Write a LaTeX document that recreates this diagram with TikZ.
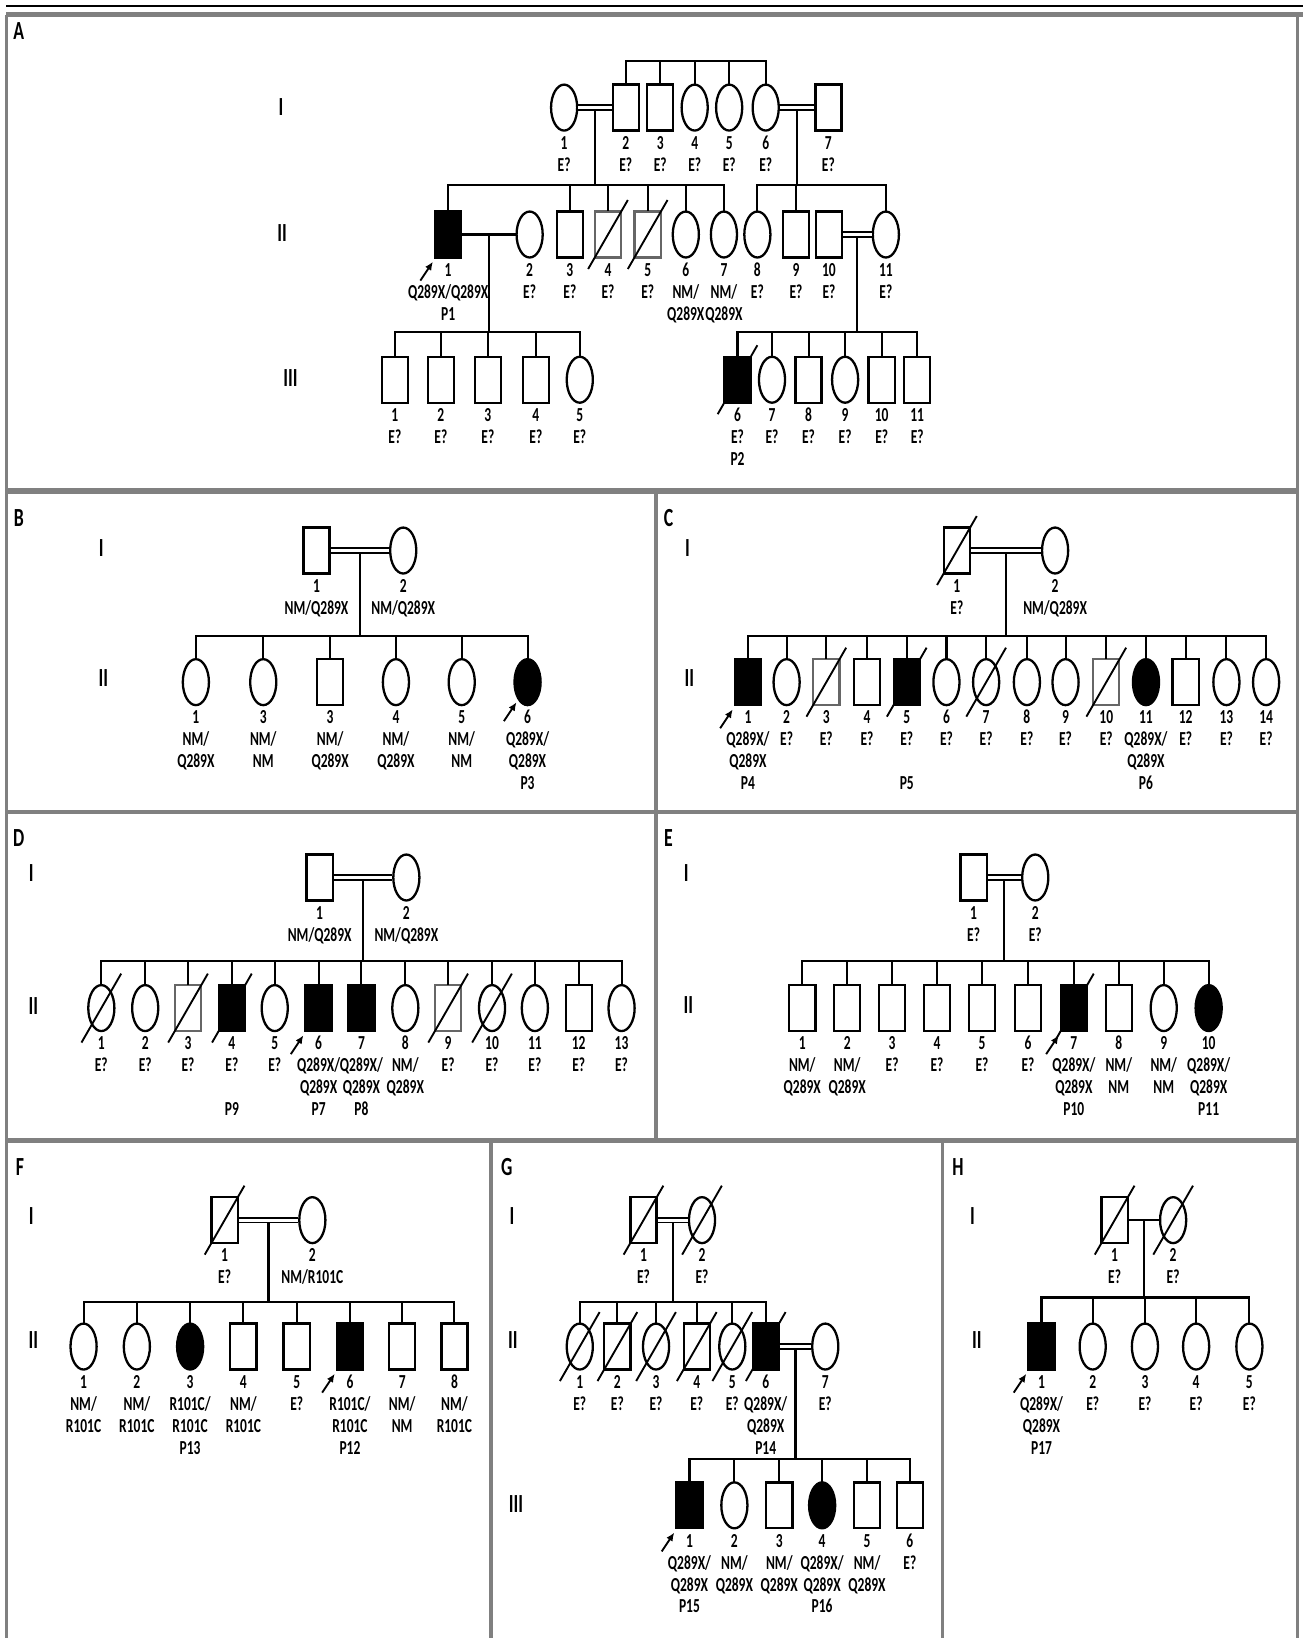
\documentclass[tikz,border=0pt]{standalone}
\usepackage{fontspec}
\setmainfont{Carlito}
\usetikzlibrary{arrows.meta, calc, positioning, shapes.geometric}

\newcommand{\sq}[1]{\scalebox{0.68}[1]{#1}}
\newcommand{\gtext}[1]{\sq{\begin{tabular}{@{}c@{}}#1\end{tabular}}}

\tikzset{
  sym/.style={draw, line width=2.2pt, inner sep=0pt, minimum width=25pt, minimum height=44pt},
  male/.style={sym, rectangle},
  female/.style={sym, ellipse},
  aff/.style={fill=black},
  grayline/.style={draw=black!60},
  kin/.style={line width=2pt, line cap=rect},
  cons/.style={line width=1.7pt, double, double distance=2.6pt},
  slash/.style={line width=1.8pt},
  lbl/.style={inner sep=0pt, font=\bfseries\fontsize{19}{21}\selectfont},
  gen/.style={inner sep=0pt, font=\bfseries\fontsize{25}{25}\selectfont},
  frame/.style={draw=black!50, line width=3pt},
}

\begin{document}
\begin{tikzpicture}[x=1pt, y=-1pt]
    \useasboundingbox (0,0) rectangle (1247,1568);

    % ==========================================
    % MACRO
    % #1 = nome, #2 = x, #3 = y, #4 = stile, #5 = etichetta
    % ==========================================
    \newcommand{\person}[5]{
        \node[#4] (#1) at (#2,#3) {};
        \node[lbl, below=2pt of #1] (#1t) {\gtext{#5}};
    }
    % barra obliqua (deceduto)
    \newcommand{\dead}[1]{
        \draw[slash] ($(#1.center)+(-19,33)$) -- ($(#1.center)+(19,-33)$);
    }
    % freccia del probando
    \newcommand{\proband}[1]{
        \draw[slash, -{Latex[length=8pt, width=7pt]}] ($(#1.south west)+(-13,21)$) -- ($(#1.south west)+(-1,3)$);
    }

    % ==========================================
    % CORNICI DEI PANNELLI
    % ==========================================
    \draw[line width=2pt] (6,6) -- (1247,6);
    \draw[frame, line width=5pt] (6,14) -- (1247,14);
    \draw[frame] (6,14) -- (6,1568);
    \draw[frame] (1242,14) -- (1242,1568);
    \draw[frame, line width=5pt] (6,470) -- (1242,470);
    \draw[frame, line width=4pt] (6,777) -- (1242,777);
    \draw[frame, line width=5pt] (6,1092) -- (1242,1092);
    \draw[frame] (628,470) -- (628,1092);
    \draw[frame] (470,1092) -- (470,1568);
    \draw[frame] (902,1092) -- (902,1568);

    % lettere e generazioni
    \node[gen] (labA) at (18,30) {\sq{A}};
    \node[gen] (labB) at (18,496) {\sq{B}};
    \node[gen] (labC) at (640,496) {\sq{C}};
    \node[gen] (labD) at (18,802) {\sq{D}};
    \node[gen] (labE) at (640,802) {\sq{E}};
    \node[gen] (labF) at (19,1117) {\sq{F}};
    \node[gen] (labG) at (485,1117) {\sq{G}};
    \node[gen] (labH) at (917,1117) {\sq{H}};

    \node[gen] (A-g1) at (269,102) {\sq{I}};
    \node[gen] (A-g2) at (270,223) {\sq{II}};
    \node[gen] (A-g3) at (278,362) {\sq{III}};
    \node[gen] (B-g1) at (97,525) {\sq{I}};
    \node[gen] (B-g2) at (99,649) {\sq{II}};
    \node[gen] (C-g1) at (658,525) {\sq{I}};
    \node[gen] (C-g2) at (660,649) {\sq{II}};
    \node[gen] (D-g1) at (30,836) {\sq{I}};
    \node[gen] (D-g2) at (32,963) {\sq{II}};
    \node[gen] (E-g1) at (657,836) {\sq{I}};
    \node[gen] (E-g2) at (659,962) {\sq{II}};
    \node[gen] (F-g1) at (30,1164) {\sq{I}};
    \node[gen] (F-g2) at (32,1283) {\sq{II}};
    \node[gen] (G-g1) at (490,1164) {\sq{I}};
    \node[gen] (G-g2) at (491,1283) {\sq{II}};
    \node[gen] (G-g3) at (494,1440) {\sq{III}};
    \node[gen] (H-g1) at (931,1164) {\sq{I}};
    \node[gen] (H-g2) at (935,1283) {\sq{II}};

    % ==========================================
    % PANNELLO A
    % ==========================================
    \def\yI{103}
    \def\yII{224.5}
    \def\yIII{363.5}
    \person{A1-1}{540}{\yI}{female}{1\\E?}
    \person{A1-2}{599}{\yI}{male}{2\\E?}
    \person{A1-3}{632}{\yI}{male}{3\\E?}
    \person{A1-4}{665}{\yI}{female}{4\\E?}
    \person{A1-5}{698}{\yI}{female}{5\\E?}
    \person{A1-6}{733}{\yI}{female}{6\\E?}
    \person{A1-7}{793}{\yI}{male}{7\\E?}

    \person{A2-1}{429}{\yII}{male,aff}{1\\Q289X/Q289X\\P1}
    \person{A2-2}{507}{\yII}{female}{2\\E?}
    \person{A2-3}{545.5}{\yII}{male}{3\\E?}
    \person{A2-4}{582}{\yII}{male,grayline}{4\\E?}
    \person{A2-5}{620}{\yII}{male,grayline}{5\\E?}
    \person{A2-6}{656.5}{\yII}{female}{6\\NM/\\Q289X}
    \person{A2-7}{693}{\yII}{female}{7\\NM/\\Q289X}
    \person{A2-8}{725}{\yII}{female}{8\\E?}
    \person{A2-9}{762}{\yII}{male}{9\\E?}
    \person{A2-10}{793.5}{\yII}{male}{10\\E?}
    \person{A2-11}{848}{\yII}{female}{11\\E?}
    \dead{A2-4}
    \dead{A2-5}
    \proband{A2-1}

    \person{A3-1}{378}{\yIII}{male}{1\\E?}
    \person{A3-2}{422}{\yIII}{male}{2\\E?}
    \person{A3-3}{467}{\yIII}{male}{3\\E?}
    \person{A3-4}{513}{\yIII}{male}{4\\E?}
    \person{A3-5}{555}{\yIII}{female}{5\\E?}
    \person{A3-6}{706}{\yIII}{male,aff}{6\\E?\\P2}
    \person{A3-7}{739}{\yIII}{female}{7\\E?}
    \person{A3-8}{774}{\yIII}{male}{8\\E?}
    \person{A3-9}{809}{\yIII}{female}{9\\E?}
    \person{A3-10}{844}{\yIII}{male}{10\\E?}
    \person{A3-11}{878}{\yIII}{male}{11\\E?}
    \dead{A3-6}

    \coordinate (A0bar) at (0,58);
    \coordinate (A2bar) at (0,177);
    \coordinate (A3bar) at (0,317.5);
    \coordinate (Am1) at ($(A1-1.east)!.5!(A1-2.west)$);
    \coordinate (Am2) at ($(A1-6.east)!.5!(A1-7.west)$);
    \coordinate (Am3) at ($(A2-1.east)!.5!(A2-2.west)$);
    \coordinate (Am4) at ($(A2-10.east)!.5!(A2-11.west)$);

    \draw[kin] (A1-2.north |- A0bar) -- (A1-6.north |- A0bar);
    \foreach \i in {2,...,6} {\draw[kin] (A1-\i) -- (A1-\i.north |- A0bar);}
    \draw[kin] (Am1) -- (Am1 |- A2bar);
    \draw[kin] (Am2) -- (Am2 |- A2bar);
    \draw[kin] (A2-1.north |- A2bar) -- (A2-7.north |- A2bar);
    \draw[kin] (A2-8.north |- A2bar) -- (A2-11.north |- A2bar);
    \foreach \i in {1,3,4,5,6,7,8,9,11} {\draw[kin] (A2-\i) -- (A2-\i.north |- A2bar);}
    \draw[kin] (Am3) -- (Am3 |- A3bar);
    \draw[kin] (Am4) -- (Am4 |- A3bar);
    \draw[kin] (A3-1.north |- A3bar) -- (A3-5.north |- A3bar);
    \draw[kin] (A3-6.north |- A3bar) -- (A3-11.north |- A3bar);
    \foreach \i in {1,...,11} {\draw[kin] (A3-\i) -- (A3-\i.north |- A3bar);}
    \draw[cons] (A1-1) -- (A1-2);
    \draw[cons] (A1-6) -- (A1-7);
    \draw[kin] (A2-1) -- (A2-2);
    \draw[cons] (A2-10) -- (A2-11);

    % ==========================================
    % PANNELLO B
    % ==========================================
    \person{B1-1}{303}{527}{male}{1\\NM/Q289X}
    \person{B1-2}{386}{527}{female}{2\\NM/Q289X}
    \person{B2-1}{187.5}{653}{female}{1\\NM/\\Q289X}
    \person{B2-2}{252}{653}{female}{3\\NM/\\NM}
    \person{B2-3}{316}{653}{male}{3\\NM/\\Q289X}
    \person{B2-4}{379}{653}{female}{4\\NM/\\Q289X}
    \person{B2-5}{442}{653}{female}{5\\NM/\\NM}
    \person{B2-6}{505}{653}{female,aff}{6\\Q289X/\\Q289X\\P3}
    \proband{B2-6}

    \coordinate (Bbar) at (0,609);
    \coordinate (Bm) at ($(B1-1.east)!.5!(B1-2.west)$);
    \draw[kin] (Bm) -- (Bm |- Bbar);
    \draw[kin] (B2-1.north |- Bbar) -- (B2-6.north |- Bbar);
    \foreach \i in {1,...,6} {\draw[kin] (B2-\i) -- (B2-\i.north |- Bbar);}
    \draw[cons] (B1-1) -- (B1-2);

    % ==========================================
    % PANNELLO C
    % ==========================================
    \person{C1-1}{916}{527}{male}{1\\E?}
    \person{C1-2}{1010}{527}{female}{2\\NM/Q289X}
    \dead{C1-1}
    \person{C2-1}{716}{653}{male,aff}{1\\Q289X/\\Q289X\\P4}
    \person{C2-2}{753}{653}{female}{2\\E?}
    \person{C2-3}{791}{653}{male,grayline}{3\\E?}
    \person{C2-4}{830}{653}{male}{4\\E?}
    \person{C2-5}{868}{653}{male,aff}{5\\E?\\ \\P5}
    \person{C2-6}{906}{653}{female}{6\\E?}
    \person{C2-7}{944}{653}{female}{7\\E?}
    \person{C2-8}{983}{653}{female}{8\\E?}
    \person{C2-9}{1020}{653}{female}{9\\E?}
    \person{C2-10}{1059}{653}{male,grayline}{10\\E?}
    \person{C2-11}{1097}{653}{female,aff}{11\\Q289X/\\Q289X\\P6}
    \person{C2-12}{1135}{653}{male}{12\\E?}
    \person{C2-13}{1174}{653}{female}{13\\E?}
    \person{C2-14}{1212}{653}{female}{14\\E?}
    \foreach \i in {3,5,7,10} {\dead{C2-\i}}
    \proband{C2-1}

    \coordinate (Cbar) at (0,609);
    \coordinate (Cm) at ($(C1-1.east)!.5!(C1-2.west)$);
    \draw[kin] (Cm) -- (Cm |- Cbar);
    \draw[kin] (C2-1.north |- Cbar) -- (C2-14.north |- Cbar);
    \foreach \i in {1,...,14} {\draw[kin] (C2-\i) -- (C2-\i.north |- Cbar);}
    \draw[cons] (C1-1) -- (C1-2);

    % ==========================================
    % PANNELLO D
    % ==========================================
    \person{D1-1}{306}{840}{male}{1\\NM/Q289X}
    \person{D1-2}{389}{840}{female}{2\\NM/Q289X}
    \person{D2-1}{97}{965}{female}{1\\E?}
    \person{D2-2}{139}{965}{female}{2\\E?}
    \person{D2-3}{180}{965}{male,grayline}{3\\E?}
    \person{D2-4}{222}{965}{male,aff}{4\\E?\\ \\P9}
    \person{D2-5}{263}{965}{female}{5\\E?}
    \person{D2-6}{305}{965}{male,aff}{6\\Q289X/\\Q289X\\P7}
    \person{D2-7}{346}{965}{male,aff}{7\\Q289X/\\Q289X\\P8}
    \person{D2-8}{388}{965}{female}{8\\NM/\\Q289X}
    \person{D2-9}{429}{965}{male,grayline}{9\\E?}
    \person{D2-10}{471}{965}{female}{10\\E?}
    \person{D2-11}{512}{965}{female}{11\\E?}
    \person{D2-12}{554}{965}{male}{12\\E?}
    \person{D2-13}{595}{965}{female}{13\\E?}
    \foreach \i in {1,3,4,9,10} {\dead{D2-\i}}
    \proband{D2-6}

    \coordinate (Dbar) at (0,920);
    \coordinate (Dm) at ($(D1-1.east)!.5!(D1-2.west)$);
    \draw[kin] (Dm) -- (Dm |- Dbar);
    \draw[kin] (D2-1.north |- Dbar) -- (D2-13.north |- Dbar);
    \foreach \i in {1,...,13} {\draw[kin] (D2-\i) -- (D2-\i.north |- Dbar);}
    \draw[cons] (D1-1) -- (D1-2);

    % ==========================================
    % PANNELLO E
    % ==========================================
    \person{E1-1}{932}{840}{male}{1\\E?}
    \person{E1-2}{991}{840}{female}{2\\E?}
    \person{E2-1}{768}{965}{male}{1\\NM/\\Q289X}
    \person{E2-2}{811}{965}{male}{2\\NM/\\Q289X}
    \person{E2-3}{854}{965}{male}{3\\E?}
    \person{E2-4}{897}{965}{male}{4\\E?}
    \person{E2-5}{940}{965}{male}{5\\E?}
    \person{E2-6}{984}{965}{male}{6\\E?}
    \person{E2-7}{1028}{965}{male,aff}{7\\Q289X/\\Q289X\\P10}
    \person{E2-8}{1071}{965}{male}{8\\NM/\\NM}
    \person{E2-9}{1114}{965}{female}{9\\NM/\\NM}
    \person{E2-10}{1157}{965}{female,aff}{10\\Q289X/\\Q289X\\P11}
    \dead{E2-7}
    \proband{E2-7}

    \coordinate (Ebar) at (0,920);
    \coordinate (Em) at ($(E1-1.east)!.5!(E1-2.west)$);
    \draw[kin] (Em) -- (Em |- Ebar);
    \draw[kin] (E2-1.north |- Ebar) -- (E2-10.north |- Ebar);
    \foreach \i in {1,...,10} {\draw[kin] (E2-\i) -- (E2-\i.north |- Ebar);}
    \draw[cons] (E1-1) -- (E1-2);

    % ==========================================
    % PANNELLO F
    % ==========================================
    \person{F1-1}{215}{1168}{male}{1\\E?}
    \person{F1-2}{299}{1168}{female}{2\\NM/R101C}
    \dead{F1-1}
    \person{F2-1}{80}{1289}{female}{1\\NM/\\R101C}
    \person{F2-2}{131}{1289}{female}{2\\NM/\\R101C}
    \person{F2-3}{182}{1289}{female,aff}{3\\R101C/\\R101C\\P13}
    \person{F2-4}{233}{1289}{male}{4\\NM/\\R101C}
    \person{F2-5}{284}{1289}{male}{5\\E?}
    \person{F2-6}{335}{1289}{male,aff}{6\\R101C/\\R101C\\P12}
    \person{F2-7}{385}{1289}{male}{7\\NM/\\NM}
    \person{F2-8}{435}{1289}{male}{8\\NM/\\R101C}
    \proband{F2-6}

    \coordinate (Fbar) at (0,1246);
    \coordinate (Fm) at ($(F1-1.east)!.5!(F1-2.west)$);
    \draw[kin] (Fm) -- (Fm |- Fbar);
    \draw[kin] (F2-1.north |- Fbar) -- (F2-8.north |- Fbar);
    \foreach \i in {1,...,8} {\draw[kin] (F2-\i) -- (F2-\i.north |- Fbar);}
    \draw[cons] (F1-1) -- (F1-2);

    % ==========================================
    % PANNELLO G
    % ==========================================
    \person{G1-1}{616}{1168}{male}{1\\E?}
    \person{G1-2}{672}{1168}{female}{2\\E?}
    \dead{G1-1}
    \dead{G1-2}
    \person{G2-1}{555}{1289}{female}{1\\E?}
    \person{G2-2}{591}{1289}{male}{2\\E?}
    \person{G2-3}{628}{1289}{female}{3\\E?}
    \person{G2-4}{667}{1289}{male}{4\\E?}
    \person{G2-5}{701}{1289}{female}{5\\E?}
    \person{G2-6}{733}{1289}{male,aff}{6\\Q289X/\\Q289X\\P14}
    \person{G2-7}{790}{1289}{female}{7\\E?}
    \foreach \i in {1,...,6} {\dead{G2-\i}}
    \person{G3-1}{660}{1441}{male,aff}{1\\Q289X/\\Q289X\\P15}
    \person{G3-2}{703}{1441}{female}{2\\NM/\\Q289X}
    \person{G3-3}{746}{1441}{male}{3\\NM/\\Q289X}
    \person{G3-4}{787}{1441}{female,aff}{4\\Q289X/\\Q289X\\P16}
    \person{G3-5}{830}{1441}{male}{5\\NM/\\Q289X}
    \person{G3-6}{871}{1441}{male}{6\\E?}
    \proband{G3-1}

    \coordinate (G2bar) at (0,1246);
    \coordinate (G3bar) at (0,1397);
    \coordinate (Gm1) at ($(G1-1.east)!.5!(G1-2.west)$);
    \coordinate (Gm2) at ($(G2-6.east)!.5!(G2-7.west)$);
    \draw[kin] (Gm1) -- (Gm1 |- G2bar);
    \draw[kin] (G2-1.north |- G2bar) -- (G2-6.north |- G2bar);
    \foreach \i in {1,...,6} {\draw[kin] (G2-\i) -- (G2-\i.north |- G2bar);}
    \draw[kin] (Gm2) -- (Gm2 |- G3bar);
    \draw[kin] (G3-1.north |- G3bar) -- (G3-6.north |- G3bar);
    \foreach \i in {1,...,6} {\draw[kin] (G3-\i) -- (G3-\i.north |- G3bar);}
    \draw[cons] (G1-1) -- (G1-2);
    \draw[cons] (G2-6) -- (G2-7);

    % ==========================================
    % PANNELLO H
    % ==========================================
    \person{H1-1}{1067}{1168}{male}{1\\E?}
    \person{H1-2}{1123}{1168}{female}{2\\E?}
    \dead{H1-1}
    \dead{H1-2}
    \person{H2-1}{997}{1289}{male,aff}{1\\Q289X/\\Q289X\\P17}
    \person{H2-2}{1046}{1289}{female}{2\\E?}
    \person{H2-3}{1096}{1289}{female}{3\\E?}
    \person{H2-4}{1145}{1289}{female}{4\\E?}
    \person{H2-5}{1196}{1289}{female}{5\\E?}
    \proband{H2-1}

    \coordinate (Hbar) at (0,1242);
    \coordinate (Hm) at ($(H1-1.east)!.5!(H1-2.west)$);
    \draw[kin] (Hm) -- (Hm |- Hbar);
    \draw[kin] (H2-1.north |- Hbar) -- (H2-5.north |- Hbar);
    \foreach \i in {1,...,5} {\draw[kin] (H2-\i) -- (H2-\i.north |- Hbar);}
    \draw[kin] (H1-1) -- (H1-2);

\end{tikzpicture}
\end{document}
